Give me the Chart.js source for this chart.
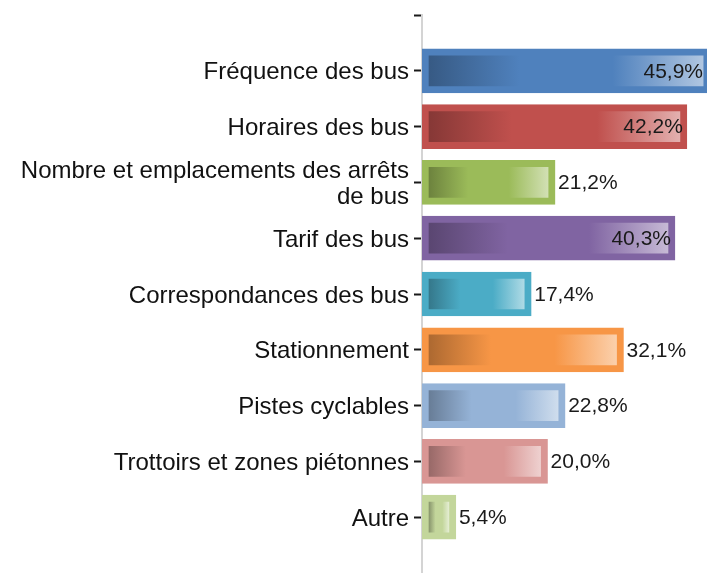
<!DOCTYPE html>
<html>
<head>
<meta charset="utf-8">
<script src="https://cdn.jsdelivr.net/npm/chart.js@4"></script>
<style>
  html, body { margin: 0; padding: 0; background: #ffffff; }
  #wrap { width: 707px; height: 573px; position: relative; }
</style>
</head>
<body>
<div id="wrap"><canvas id="chart"></canvas></div>
<script>
// Category labels (second one wraps on two lines like the original)
const categories = [
  'Fréquence des bus',
  'Horaires des bus',
  ['Nombre et emplacements des arrêts', 'de bus'],
  'Tarif des bus',
  'Correspondances des bus',
  'Stationnement',
  'Pistes cyclables',
  'Trottoirs et zones piétonnes',
  'Autre',
];

// Share of answers, in percent
const values = [45.9, 42.2, 21.2, 40.3, 17.4, 32.1, 22.8, 20.0, 5.4];

// Office-style palette, one colour per bar
const barColors = [
  '#4F81BD', '#C0504D', '#9BBB59', '#8064A2', '#4BACC6',
  '#F79646', '#95B3D7', '#D99694', '#C3D69B',
];

const fontFamily = "'Liberation Sans', Arial, sans-serif";

// The axis starts one empty slot above the first bar and runs past the last one
const labels = [''].concat(categories, ['']);
const data = [null].concat(values, [null]);
const colors = ['#000'].concat(barColors, ['#000']);

function hexToRgb(hex) {
  const n = parseInt(hex.slice(1), 16);
  return [(n >> 16) & 255, (n >> 8) & 255, n & 255];
}

function mix(hex, target, amount) {
  const c = hexToRgb(hex);
  const r = c.map((v) => Math.round(v + (target - v) * amount));
  return `rgb(${r[0]},${r[1]},${r[2]})`;
}

// French decimal comma, e.g. 45.9 -> "45,9%"
function formatPct(v) {
  return v.toFixed(1).replace('.', ',') + '%';
}

const INSET = 7;

// Inner fill: dark on the left, plain in the middle, washed-out on the right
function barGradient(context) {
  const i = context.dataIndex;
  const base = colors[i];
  const chart = context.chart;
  const v = data[i];
  if (!chart.chartArea || v == null) return base;
  const xs = chart.scales.x;
  const x0 = xs.getPixelForValue(0) + INSET;
  const x1 = xs.getPixelForValue(v) - INSET;
  if (x1 <= x0) return base;
  const g = chart.ctx.createLinearGradient(x0, 0, x1, 0);
  g.addColorStop(0, mix(base, 0, 0.3));
  g.addColorStop(0.33, base);
  g.addColorStop(0.67, base);
  g.addColorStop(1, mix(base, 255, 0.55));
  return g;
}

// Value labels: outside the bar end when they fit, otherwise inside
const valueLabels = {
  id: 'valueLabels',
  afterDatasetsDraw(chart) {
    const ctx = chart.ctx;
    const area = chart.chartArea;
    const meta = chart.getDatasetMeta(0);
    ctx.save();
    ctx.font = `21px ${fontFamily}`;
    ctx.fillStyle = '#1a1a1a';
    ctx.textBaseline = 'middle';
    meta.data.forEach((bar, i) => {
      const v = data[i];
      if (v == null) return;
      const text = formatPct(v);
      const w = ctx.measureText(text).width;
      if (bar.x + 3 + w > area.right) {
        ctx.textAlign = 'right';
        ctx.fillText(text, Math.min(bar.x, area.right) - 4, bar.y + 1);
      } else {
        ctx.textAlign = 'left';
        ctx.fillText(text, bar.x + 3, bar.y + 1);
      }
    });
    ctx.restore();
  },
};

new Chart(document.getElementById('chart'), {
  type: 'bar',
  data: {
    labels,
    datasets: [{
      data,
      backgroundColor: barGradient,
      borderColor: colors,
      borderWidth: INSET,
      borderSkipped: false,
      barThickness: 44,
    }],
  },
  options: {
    indexAxis: 'y',
    responsive: true,
    maintainAspectRatio: false,
    animation: false,
    events: [],
    layout: { padding: { top: 15, right: 0, bottom: 0, left: 0 } },
    plugins: {
      legend: { display: false },
      tooltip: { enabled: false },
    },
    scales: {
      x: {
        display: false,
        min: 0,
        max: 45.4,
      },
      y: {
        offset: false,
        grid: {
          offset: false,
          drawOnChartArea: false,
          tickLength: 8,
          // no tick mark on the trailing empty slot at the bottom edge
          tickColor: (c) => (c.index === labels.length - 1 ? 'rgba(0,0,0,0)' : '#1a1a1a'),
          tickWidth: 2,
        },
        border: { color: '#d4d4d4', width: 2 },
        ticks: {
          color: '#111111',
          padding: 5,
          labelOffset: 2,
          autoSkip: false,
          font: { family: fontFamily, size: 24, lineHeight: 1.05 },
        },
        afterFit(scale) {
          scale.width = 422;
          scale.paddingTop = 0;
          scale.paddingBottom = 0;
        },
      },
    },
  },
  plugins: [valueLabels],
});
</script>
</body>
</html>
